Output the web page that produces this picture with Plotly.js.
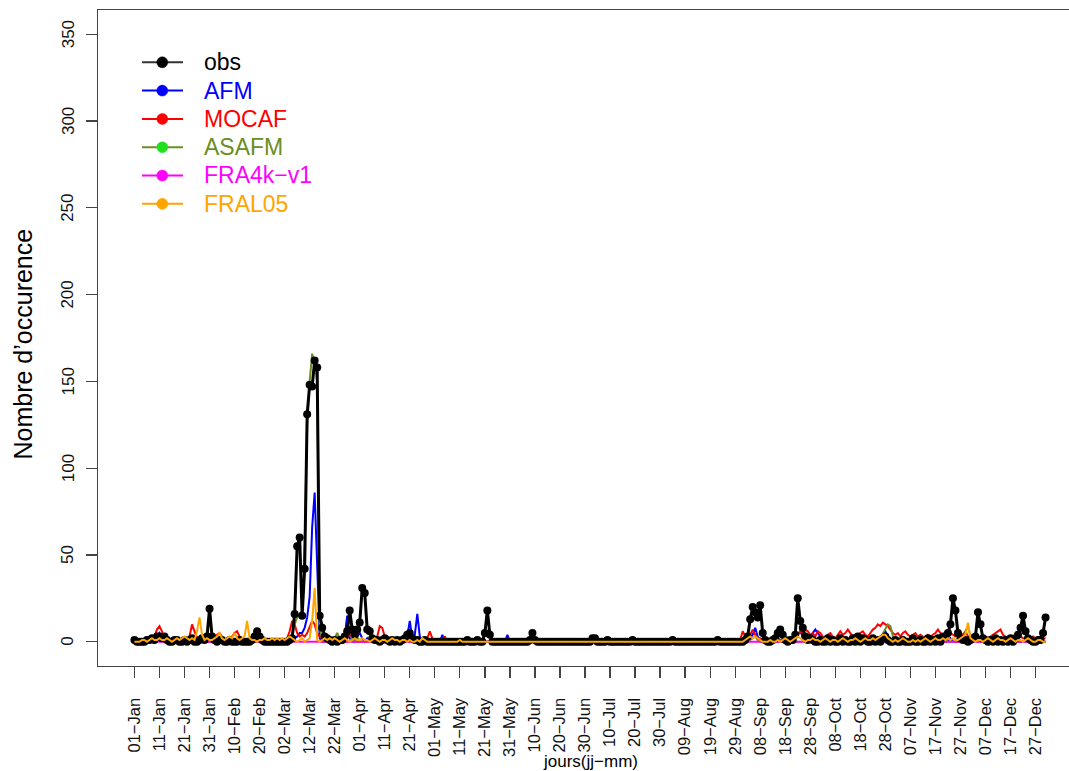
<!DOCTYPE html>
<html>
<head>
<meta charset="utf-8">
<script src="https://cdn.plot.ly/plotly-3.0.1.min.js"></script>
<style>
html,body{margin:0;padding:0;overflow:hidden;background:#fff;}
#chart{width:1100px;height:771px;}
</style>
</head>
<body>
<div id="chart"></div>
<script>
// ---------- DATA (daily counts, day 1 = 01-Jan, non-leap year) ----------
const obs = [
  1,0,0,0,0,1,1,2,1,3, 3,2,3,1,0,0,1,1,0,0, 1,0,1,2,0,0,1,2,1,3, 19,
  3,1,0,1,1,0,0,1,0,0, 0,1,0,0,0,0,1,3,6,3, 1,0,0,0,0,0,0,0,
  0,0,0,1,2,16,55,60,15,42, 131,148,147,162,158,15,8,3,2,1, 0,1,0,1,1,3,6,18,7,4, 7,
  11,31,28,7,6,2,1,1,0,1, 2,1,0,1,0,1,0,1,2,4, 5,2,1,1,0,0,1,0,0,0,
  0,0,0,0,0,0,0,0,0,0, 0,0,0,1,0,0,0,1,0,0, 5,18,4,0,0,0,0,0,0,0, 0,
  0,0,0,0,0,0,0,1,5,1, 0,0,0,0,0,0,0,0,0,0, 0,0,0,0,0,0,0,0,0,0,
  0,0,2,2,0,0,0,0,1,0, 0,0,0,0,0,0,0,0,1,0, 0,0,0,0,0,0,0,0,0,0, 0,
  0,0,0,1,0,0,0,0,0,0, 0,0,0,0,0,0,0,0,0,0, 0,1,0,0,0,0,0,0,0,0, 0,
  0,1,3,13,20,17,14,21,5,1, 0,0,1,2,5,7,4,1,0,1, 1,4,25,12,8,3,1,2,1,0,
  0,1,0,0,2,0,1,0,0,2, 0,1,0,0,2,0,3,0,2,1, 0,0,2,0,1,0,2,3,1,0, 0,
  1,0,0,1,0,0,0,2,0,0, 1,0,0,2,0,1,0,2,0,3, 3,5,10,25,18,5,2,1,1,0,
  1,2,3,17,10,2,1,0,1,0, 2,0,1,0,1,0,2,0,2,4, 8,15,6,2,1,0,0,1,1,5, 14
];
const afm = [
  0,0,0,0,0,0,0,0,1,3, 5,2,0,0,0,0,0,0,0,0, 0,0,0,0,0,0,0,0,0,0, 0,
  0,0,0,0,0,0,0,0,0,0, 0,0,0,0,0,0,0,0,0,0, 0,0,0,0,0,0,0,0,
  0,0,0,0,1,2,3,5,5,8, 14,26,66,86,40,2,0,0,0,0, 0,0,1,0,0,3,15,2,0,0, 3,
  5,2,0,2,0,0,0,0,0,0, 0,0,0,0,0,0,0,0,0,3, 12,2,4,16,3,0,0,0,0,0,
  0,0,0,4,0,0,0,0,0,0, 0,0,0,0,0,0,0,0,0,0, 0,0,0,0,0,0,0,0,0,4, 0,
  0,0,0,0,0,0,0,0,0,0, 0,0,0,0,0,0,0,0,0,0, 0,0,0,0,0,0,0,0,0,0,
  0,0,3,0,0,0,0,0,0,0, 0,0,0,0,0,0,0,0,0,0, 0,0,0,0,0,0,0,0,0,0, 0,
  0,0,0,0,0,0,0,0,0,0, 0,0,0,0,0,0,0,0,0,0, 0,0,0,0,0,0,0,0,0,0, 0,
  0,0,0,2,4,8,3,1,0,0, 0,0,0,0,0,0,0,0,0,0, 0,2,4,6,3,2,1,3,5,7,
  5,3,2,1,0,0,0,0,0,0, 0,0,0,0,0,0,0,0,0,0, 0,0,0,0,0,2,4,6,3,0, 0,
  0,0,0,0,0,0,0,0,0,0, 0,0,0,0,0,0,0,0,0,0, 0,0,2,0,0,0,0,0,0,0,
  0,0,0,0,0,0,0,0,0,0, 0,0,0,0,0,0,0,0,0,0, 0,0,0,0,0,0,0,0,0,0, 0
];
const mocaf = [
  0,0,0,0,0,0,0,1,3,7, 9,6,2,0,0,0,0,0,0,0, 0,0,3,10,6,2,0,0,0,0, 0,
  0,2,4,5,3,0,0,0,3,5, 6,3,0,0,0,0,0,0,0,0, 0,0,0,0,0,0,0,0,
  0,0,2,6,12,10,5,3,4,3, 5,8,12,10,5,3,2,0,0,0, 0,0,0,0,0,0,2,4,3,0, 0,
  0,0,0,0,0,0,0,3,9,8, 3,0,0,0,0,0,0,0,0,0, 0,0,0,0,0,0,0,2,6,2,
  0,0,0,0,3,0,0,0,0,0, 0,0,0,0,0,0,0,0,0,0, 0,0,0,0,0,0,0,0,0,0, 0,
  0,0,0,0,0,0,0,0,0,0, 0,0,0,0,0,0,0,0,0,0, 0,0,0,0,0,0,0,0,0,0,
  0,0,0,0,0,0,0,0,0,0, 0,0,0,0,0,0,0,0,0,0, 0,0,0,0,0,0,0,0,0,0, 0,
  0,0,0,0,0,0,0,0,0,0, 0,0,0,0,0,0,0,0,0,0, 0,0,0,0,0,0,0,0,0,0, 1,
  6,3,2,4,7,4,2,2,1,1, 0,1,0,1,2,1,0,1,2,1, 2,3,4,6,5,7,6,4,5,3,
  6,5,3,2,4,5,3,2,4,6, 4,5,7,5,3,4,3,5,6,4, 3,5,7,8,10,9,11,10,9,7, 5,
  4,5,3,5,6,4,3,4,5,3, 4,3,2,4,3,4,5,7,5,4, 3,4,5,4,3,4,5,4,6,3,
  3,2,2,3,2,3,2,2,3,4, 5,6,7,4,3,2,3,2,3,2, 3,2,2,3,2,3,2,2,3,2, 2
];
const asafm = [
  0,0,0,0,0,0,0,0,0,1, 2,1,0,0,0,0,0,0,0,0, 0,0,0,0,0,0,0,0,0,0, 0,
  0,0,0,0,0,0,0,0,0,0, 0,0,0,0,0,0,0,0,0,0, 0,0,0,0,0,0,0,0,
  0,0,0,1,4,10,14,16,18,55, 125,150,166,160,150,8,2,0,0,0, 0,2,5,2,0,0,0,0,2,0, 3,
  0,0,0,0,0,0,0,0,0,0, 0,0,0,0,0,0,0,0,0,0, 0,0,0,0,0,0,0,0,0,0,
  0,0,0,0,0,0,0,0,0,0, 0,0,0,0,0,0,0,0,0,0, 0,0,0,0,0,0,0,0,0,0, 0,
  0,0,0,0,0,0,0,0,0,0, 0,0,0,0,0,0,0,0,0,0, 0,0,0,0,0,0,0,0,0,0,
  0,0,0,0,0,0,0,0,0,0, 0,0,0,0,0,0,0,0,0,0, 0,0,0,0,0,0,0,0,0,0, 0,
  0,0,0,0,0,0,0,0,0,0, 0,0,0,0,0,0,0,0,0,0, 0,0,0,0,0,0,0,0,0,0, 0,
  0,0,0,1,2,3,1,0,0,0, 0,0,0,0,0,0,0,0,0,0, 0,0,0,0,0,0,0,0,0,0,
  0,0,0,0,0,0,0,0,0,0, 0,0,0,0,0,0,0,0,0,0, 0,0,0,0,0,2,5,8,10,9, 3,
  0,0,0,0,0,0,0,0,0,0, 0,0,0,0,0,0,0,0,0,0, 0,0,0,0,0,0,0,0,6,9,
  3,0,0,0,0,0,0,0,0,0, 0,0,0,0,0,0,0,0,0,0, 0,0,0,0,0,0,0,0,0,0, 0
];
const fra4k = [
  0,0,0,0,0,0,0,0,0,0, 0,0,0,0,0,0,0,0,0,0, 0,0,0,0,0,0,0,0,0,0, 0,
  0,0,0,0,0,0,0,0,0,0, 0,0,0,0,0,0,0,0,0,0, 0,0,0,0,0,0,0,0,
  0,0,0,0,0,0,0,0,0,0, 0,0,0,0,0,0,0,0,0,0, 0,0,0,0,0,0,0,0,0,0, 0,
  0,0,0,0,0,0,0,0,0,0, 0,0,0,0,0,0,0,0,0,0, 0,0,0,0,0,0,0,0,0,0,
  0,0,0,0,0,0,0,0,0,0, 0,0,0,0,0,0,0,0,0,0, 0,0,0,0,0,0,0,0,0,0, 0,
  0,0,0,0,0,0,0,0,0,0, 0,0,0,0,0,0,0,0,0,0, 0,0,0,0,0,0,0,0,0,0,
  0,0,0,0,0,0,0,0,0,0, 0,0,0,0,0,0,0,0,0,0, 0,0,0,0,0,0,0,0,0,0, 0,
  0,0,0,0,0,0,0,0,0,0, 0,0,0,0,0,0,0,0,0,0, 0,0,0,0,0,0,0,0,0,0, 0,
  0,0,0,0,0,0,0,0,0,0, 0,0,0,0,0,0,0,0,0,0, 0,0,0,0,0,0,0,0,0,0,
  0,0,0,0,0,0,0,0,0,0, 0,0,0,0,0,0,0,0,0,0, 0,0,0,0,0,0,0,0,0,0, 0,
  0,0,0,0,0,0,0,0,0,0, 0,0,0,0,0,0,0,0,0,0, 0,0,0,0,0,0,0,0,0,0,
  0,0,0,0,0,0,0,0,0,0, 0,0,0,0,0,0,0,0,0,0, 0,0,0,0,0,0,0,0,0,0, 0
];
const fral05 = [
  0,0,0,1,1,0,1,2,1,1, 2,1,1,2,1,0,1,2,1,2, 3,2,1,2,1,6,14,4,1,2, 1,
  1,2,3,5,2,1,2,3,2,5, 2,1,2,3,12,2,1,1,0,1, 1,2,1,1,2,1,2,1,
  2,1,2,3,2,1,0,1,2,0, 1,2,12,31,1,0,1,2,1,2, 1,2,1,0,1,2,1,0,1,2, 1,
  1,2,1,1,0,1,2,1,0,1, 1,0,1,2,1,1,0,1,1,0, 1,0,0,1,0,2,1,0,0,0,
  0,0,0,0,0,0,0,0,0,0, 1,0,0,0,0,0,0,0,0,0, 0,0,0,0,0,0,0,0,0,0, 0,
  0,0,0,0,0,0,0,0,0,0, 0,0,0,0,0,0,0,0,0,0, 0,0,0,0,0,0,0,0,0,0,
  0,0,0,0,0,0,0,0,0,0, 0,0,0,0,0,0,0,0,0,0, 0,0,0,0,0,0,0,0,0,0, 0,
  0,0,0,0,0,0,0,0,0,0, 0,0,0,0,0,0,0,0,0,0, 0,0,0,0,0,0,0,0,0,0, 0,
  0,1,2,3,2,3,2,1,0,0, 0,1,0,0,1,0,1,2,1,0, 1,2,3,2,1,0,1,1,2,1,
  1,0,1,2,1,0,1,1,0,1, 2,1,0,1,1,2,1,0,1,2, 1,1,2,1,2,3,4,4,2,1, 0,
  1,0,1,2,1,0,0,1,0,1, 0,1,2,1,0,1,2,1,1,2, 1,2,1,2,1,1,2,3,4,11,
  2,1,0,1,1,0,1,2,1,0, 1,2,1,1,0,1,2,1,0,1, 1,0,1,2,1,0,0,1,1,0, 0
];
const tickDays = [1,11,21,31,41,51,61,71,81,91,101,111,121,131,141,151,161,171,181,191,
  201,211,221,231,241,251,261,271,281,291,301,311,321,331,341,351,361];
const tickLabels = ['01\u2212Jan','11\u2212Jan','21\u2212Jan','31\u2212Jan','10\u2212Feb','20\u2212Feb',
  '02\u2212Mar','12\u2212Mar','22\u2212Mar','01\u2212Apr','11\u2212Apr','21\u2212Apr','01\u2212May',
  '11\u2212May','21\u2212May','31\u2212May','10\u2212Jun','20\u2212Jun','30\u2212Jun','10\u2212Jul',
  '20\u2212Jul','30\u2212Jul','09\u2212Aug','19\u2212Aug','29\u2212Aug','08\u2212Sep','18\u2212Sep',
  '28\u2212Sep','08\u2212Oct','18\u2212Oct','28\u2212Oct','07\u2212Nov','17\u2212Nov','27\u2212Nov',
  '07\u2212Dec','17\u2212Dec','27\u2212Dec'];
const yTickVals = [0, 50, 100, 150, 200, 250, 300, 350];
const seriesNames = ['obs','AFM','MOCAF','ASAFM','FRA4k\u2212v1','FRAL05'];
const seriesValues = [obs, afm, mocaf, asafm, fra4k, fral05];
const xTitle = 'jours(jj\u2212mm)';
const yTitle = 'Nombre d\u2019occurence';

// ---------- STYLE ----------
const lineColors   = ['#000000','#0000FF','#FF0000','#6B8E23','#FF00FF','#FFA500'];
const markerColors = ['#000000','#0000FF','#FF0000','#1EE01E','#FF00FF','#FFA500'];
const legendLineColors = ['#333333','#0000FF','#FF0000','#6B8E23','#FF00FF','#FFA500'];
const drawOrder = [1, 2, 3, 4, 0, 5];   // models under obs, FRAL05 on top
const W = 1100, H = 771, ML = 98, MR = 18, MT = 10, MB = 105;
const PW = W - ML - MR, PH = H - MT - MB;
const FONT = 'Liberation Sans, Arial, Helvetica, sans-serif';

const days = obs.map((_, i) => i + 1);

const traces = drawOrder.map(k => {
  const t = {
    type: 'scatter',
    x: days,
    y: seriesValues[k],
    name: seriesNames[k],
    mode: k === 0 ? 'lines+markers' : 'lines',
    line: {color: lineColors[k], width: k === 0 ? 3 : 2},
    showlegend: false,
    hoverinfo: 'skip'
  };
  if (k === 0) t.marker = {color: markerColors[k], size: 8};
  return t;
});

// manual legend (R-style) in pixel positions converted to paper coordinates
const px2x = px => (px - ML) / PW;
const px2y = py => 1 - (py - MT) / PH;
const legRow0 = 62.3, legStep = 28.3;
const shapes = [], annotations = [];
seriesNames.forEach((nm, k) => {
  const yy = px2y(legRow0 + k * legStep);
  shapes.push({type:'line', xref:'paper', yref:'paper', x0:px2x(142), x1:px2x(183), y0:yy, y1:yy,
    line:{color:legendLineColors[k], width:2}});
  shapes.push({type:'circle', xref:'paper', yref:'paper', xsizemode:'pixel', ysizemode:'pixel',
    xanchor:px2x(162.3), yanchor:yy, x0:-5.5, x1:5.5, y0:-5.5, y1:5.5,
    fillcolor:markerColors[k], line:{color:markerColors[k], width:0.5}});
  annotations.push({xref:'paper', yref:'paper', x:px2x(202), y:yy, xanchor:'left', yanchor:'middle',
    text:nm, showarrow:false, font:{family:FONT, size:23, color:lineColors[k]}});
});
// y tick labels, rotated like R's default (las=0), positioned on the y scale
yTickVals.forEach(v => {
  annotations.push({xref:'paper', yref:'y', x:px2x(68), y:v, xanchor:'center', yanchor:'middle',
    textangle:-90, text:String(v), showarrow:false, font:{family:FONT, size:17, color:'#111'}});
});
// axis titles (placed like R's mtext lines)
annotations.push({xref:'paper', yref:'paper', x:px2x(590.5), y:px2y(761), xanchor:'center', yanchor:'middle',
  text:xTitle, showarrow:false, font:{family:FONT, size:17, color:'#000'}});
annotations.push({xref:'paper', yref:'paper', x:px2x(22.5), y:px2y(344), xanchor:'center', yanchor:'middle',
  textangle:-90, text:yTitle, showarrow:false, font:{family:FONT, size:25, color:'#000'}});

const axisCommon = {
  showline:true, mirror:true, linecolor:'#444', linewidth:1.3,
  ticks:'outside', ticklen:11, tickwidth:1.3, tickcolor:'#444',
  showgrid:false, zeroline:false, automargin:false
};

const layout = {
  width: W, height: H,
  margin: {l:ML, r:MR, t:MT, b:MB, pad:0},
  paper_bgcolor:'#ffffff', plot_bgcolor:'#ffffff',
  showlegend:false,
  font:{family:FONT, color:'#000'},
  xaxis: Object.assign({}, axisCommon, {
    range:[-13.56, 379.56],
    tickmode:'array', tickvals:tickDays, ticktext:tickLabels,
    tickangle:-90, ticklabelstandoff:13,
    tickfont:{family:FONT, size:16.5, color:'#111'}
  }),
  yaxis: Object.assign({}, axisCommon, {
    range:[-14, 364],
    tickmode:'array', tickvals:yTickVals, showticklabels:false
  }),
  shapes: shapes,
  annotations: annotations
};

Plotly.newPlot('chart', traces, layout, {staticPlot:true, displayModeBar:false});
</script>
</body>
</html>
